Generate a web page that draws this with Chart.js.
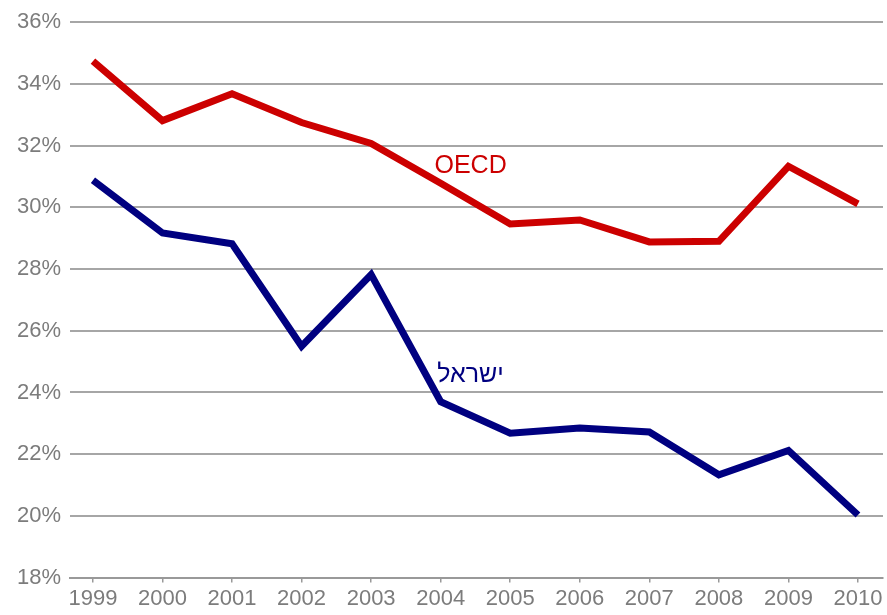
<!DOCTYPE html>
<html>
<head>
<meta charset="utf-8">
<script src="https://cdn.jsdelivr.net/npm/chart.js@4"></script>
<style>
  html, body { margin: 0; padding: 0; background: #fff; }
  #wrap { width: 887px; height: 615px; }
</style>
</head>
<body>
<div id="wrap"><canvas id="chart"></canvas></div>
<script>
// values (percent)
const years = [1999, 2000, 2001, 2002, 2003, 2004, 2005, 2006, 2007, 2008, 2009, 2010];
const oecd = [34.74, 32.81, 33.68, 32.75, 32.07, 30.78, 29.46, 29.59, 28.88, 28.9, 31.33, 30.11];
const israel = [30.88, 29.17, 28.82, 25.5, 27.82, 23.7, 22.68, 22.85, 22.72, 21.33, 22.12, 20.03];
const yTicks = [18, 20, 22, 24, 26, 28, 30, 32, 34, 36];

const FONT = "'Liberation Sans', Arial, sans-serif";
const GRAY = '#7c7c7c';

// in-chart series labels, anchored in data units
const seriesLabels = [
    { text: 'OECD', x: 2004.43, y: 31.33, color: '#cc0000' },
    { text: 'ישראל', x: 2004.43, y: 24.55, color: '#000080' }
];

const labelPlugin = {
    id: 'seriesLabels',
    afterDatasetsDraw(chart) {
        const ctx = chart.ctx;
        const xs = chart.scales.x, ys = chart.scales.y;
        ctx.save();
        ctx.font = '25px ' + FONT;
        ctx.textAlign = 'center';
        ctx.textBaseline = 'middle';
        seriesLabels.forEach(l => {
            ctx.fillStyle = l.color;
            ctx.fillText(l.text, xs.getPixelForValue(l.x), ys.getPixelForValue(l.y));
        });
        ctx.restore();
    }
};

const ctx = document.getElementById('chart').getContext('2d');
const chart = new Chart(ctx, {
    type: 'line',
    data: {
        datasets: [{
            label: 'OECD',
            data: years.map((y, i) => ({ x: y, y: oecd[i] })),
            borderColor: '#cc0000',
            borderWidth: 7,
            pointRadius: 0,
            borderJoinStyle: 'miter',
            tension: 0
        }, {
            label: 'ישראל',
            data: years.map((y, i) => ({ x: y, y: israel[i] })),
            borderColor: '#000080',
            borderWidth: 7,
            pointRadius: 0,
            borderJoinStyle: 'miter',
            tension: 0
        }]
    },
    options: {
        responsive: true,
        maintainAspectRatio: false,
        animation: false,
        layout: { padding: { top: 21, right: 4, bottom: 0, left: 0 } },
        plugins: {
            legend: { display: false },
            tooltip: { enabled: false }
        },
        scales: {
            x: {
                type: 'linear',
                min: 1998.67,
                max: 2010.36,
                afterBuildTicks: scale => {
                    scale.ticks = years.map(v => ({ value: v }));
                },
                ticks: {
                    color: GRAY,
                    font: { family: FONT, size: 22 },
                    padding: 3,
                    maxRotation: 0,
                    autoSkip: false,
                    callback: v => String(v)
                },
                grid: {
                    drawOnChartArea: false,
                    drawTicks: true,
                    tickLength: 5,
                    color: '#999999',
                    lineWidth: 1.5
                },
                border: { display: true, color: '#999999', width: 2 }
            },
            y: {
                min: 18,
                max: 36,
                afterBuildTicks: scale => {
                    scale.ticks = yTicks.map(v => ({ value: v }));
                },
                afterFit: scale => { scale.width = 70; },
                ticks: {
                    color: GRAY,
                    font: { family: FONT, size: 22 },
                    padding: 9,
                    callback: v => v + '%'
                },
                grid: {
                    drawTicks: false,
                    color: '#a6a6a6',
                    lineWidth: 2
                },
                border: { display: false }
            }
        }
    },
    plugins: [labelPlugin]
});
</script>
</body>
</html>
